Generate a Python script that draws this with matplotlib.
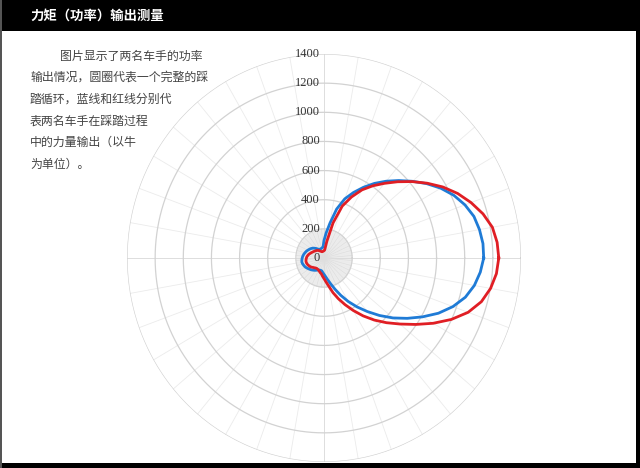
import numpy as np
import matplotlib
matplotlib.use("Agg")
import matplotlib.pyplot as plt
from matplotlib.patches import Rectangle

plt.rcParams['font.family'] = ['Noto Sans CJK SC', 'DejaVu Sans']

# ---------------- data ----------------
title = '力矩（功率）输出测量'
body_lines = [
    '图片显示了两名车手的功率',
    '输出情况，圆圈代表一个完整的踩',
    '踏循环，蓝线和红线分别代',
    '表两名车手在踩踏过程',
    '中的力量输出（以牛',
    '为单位）。',
]
ring_values = [0, 200, 400, 600, 800, 1000, 1200, 1400]

# crank angle (degrees, counter-clockwise from the right) and force (N)
angles_deg = list(range(0, 360, 5))
blue_force = [1135, 1134, 1122, 1103, 1066, 1018, 958, 890, 819, 752, 688, 625,
              560, 496, 432, 348, 242, 172, 120, 76, 72, 69, 67, 67,
              68, 75, 85, 95, 105, 113, 120, 127, 134, 140, 146, 151,
              155, 158, 160, 157, 152, 147, 139, 131, 124, 117, 110, 103,
              96, 91, 88, 88, 90, 100, 112, 128, 152, 184, 228, 283,
              345, 410, 480, 558, 640, 722, 808, 897, 975, 1040, 1085, 1115]
red_force = [1242, 1235, 1215, 1170, 1112, 1048, 975, 895, 816, 740, 669, 605,
             540, 462, 379, 250, 117, 55, 50, 48, 46, 45, 46, 50,
             55, 62, 68, 73, 77, 82, 87, 93, 100, 108, 115, 121,
             125, 128, 130, 129, 126, 121, 116, 109, 101, 95, 90, 88,
             89, 92, 97, 104, 110, 125, 141, 165, 197, 246, 297, 353,
             416, 485, 556, 628, 705, 795, 896, 998, 1090, 1158, 1202, 1230]

# ---------------- figure ----------------
W, H = 640, 468
fig = plt.figure(figsize=(W / 100, H / 100), dpi=100)
fig.patch.set_facecolor('white')

# header bar and page borders
fig.add_artist(Rectangle((0, 1 - 31 / H), 1, 31 / H, transform=fig.transFigure,
                         facecolor='black', edgecolor='none', zorder=0))
fig.add_artist(Rectangle((1 - 4 / W, 0), 4 / W, 1, transform=fig.transFigure,
                         facecolor='black', edgecolor='none', zorder=0))
fig.add_artist(Rectangle((0, 0), 1, 5 / H, transform=fig.transFigure,
                         facecolor='black', edgecolor='none', zorder=0))
fig.add_artist(Rectangle((0, 0), 2 / W, 1, transform=fig.transFigure,
                         facecolor='#555555', edgecolor='none', zorder=0))

fig.text(30 / W, 1 - 16 / H, title, color='white', fontsize=9.6,
         fontweight='bold', ha='left', va='center')

for i, line in enumerate(body_lines):
    x = 60 if i == 0 else 30
    y = 56 + i * 21.6
    fig.text(x / W, 1 - y / H, line, fontsize=8.6, color='#444444',
             ha='left', va='center')

# polar axes: centre (324, 258) px, radii 197 (x) / 204 (y) px for 1400
cx, cy, rx, ry = 324, 258, 197, 204
ax = fig.add_axes([(cx - rx) / W, (H - cy - ry) / H, 2 * rx / W, 2 * ry / H],
                  projection='polar')
ax.set_aspect('auto')
ax.set_facecolor('none')
ax.set_ylim(0, 1400)
ax.set_xticks([])
ax.set_yticks([])
ax.grid(False)
ax.spines['polar'].set_visible(False)

th = np.linspace(0, 2 * np.pi, 721)
# shaded inner disk
ax.fill_between(th, 0, ring_values[1], color='#ededed', zorder=1, lw=0)
# radial lines
for a in range(0, 360, 10):
    t = np.deg2rad(a)
    col = '#d8d8d8' if a % 90 == 0 else '#ebebeb'
    ax.plot([t, t], [0, ring_values[-1]], color=col, lw=0.6, zorder=1.5)
for a in range(5, 360, 10):
    t = np.deg2rad(a)
    ax.plot([t, t], [0, ring_values[1]], color='#dedede', lw=0.5, zorder=1.5)
# concentric rings
for v in ring_values[1:]:
    ax.plot(th, np.full_like(th, v), color='#d2d2d2', lw=0.9, zorder=2)

# ring labels along the vertical axis
for v in ring_values:
    ax.annotate(str(v), xy=(np.pi / 2, v), xytext=(-3, 0),
                textcoords='offset points', ha='right', va='center',
                fontsize=9, family='Liberation Serif', color='#333333',
                zorder=5)

# force curves
ang = np.deg2rad(angles_deg + [angles_deg[0]])
ax.plot(ang, blue_force + [blue_force[0]], color='#1f7bd6', lw=2.0,
        zorder=4, solid_joinstyle='round')
ax.plot(ang, red_force + [red_force[0]], color='#e01e24', lw=2.0,
        zorder=4.5, solid_joinstyle='round')

fig.savefig('out.png', dpi=100, facecolor=fig.get_facecolor())
